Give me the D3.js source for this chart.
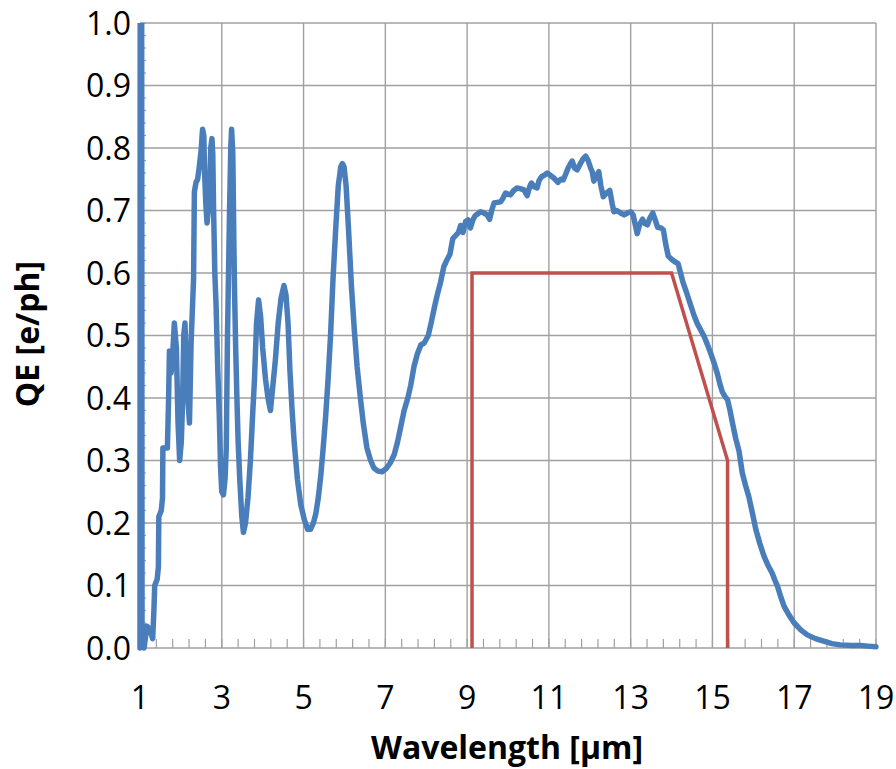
<!DOCTYPE html>
<html>
<head>
<meta charset="utf-8">
<script src="https://cdn.jsdelivr.net/npm/d3@7"></script>
<style>
  body { margin: 0; background: #fff; }
  text { font-family: "Open Sans", "Liberation Sans", sans-serif; fill: #000; }
</style>
</head>
<body>
<div id="chart"></div>
<script>
// measured QE curve (blue)
const wavelength = [1.00,1.005,1.04,1.05,1.10,1.17,1.24,1.31,1.34,1.36,1.42,1.45,1.46,1.52,1.55,1.56,1.67,1.70,1.72,1.76,1.80,1.84,1.89,1.93,1.97,2.01,2.04,2.07,2.10,2.14,2.17,2.21,2.25,2.31,2.33,2.37,2.41,2.45,2.50,2.53,2.56,2.58,2.61,2.64,2.67,2.70,2.73,2.76,2.78,2.80,2.83,2.86,2.90,2.94,2.97,3.00,3.04,3.08,3.11,3.14,3.16,3.19,3.22,3.24,3.27,3.29,3.31,3.34,3.37,3.40,3.44,3.49,3.53,3.58,3.64,3.70,3.76,3.80,3.85,3.90,3.95,4.00,4.07,4.13,4.19,4.25,4.31,4.38,4.45,4.52,4.57,4.62,4.67,4.72,4.77,4.85,4.93,5.02,5.10,5.17,5.24,5.30,5.36,5.42,5.48,5.54,5.60,5.66,5.72,5.79,5.85,5.91,5.95,5.99,6.04,6.10,6.17,6.24,6.31,6.39,6.46,6.55,6.64,6.72,6.82,6.92,7.02,7.12,7.22,7.30,7.38,7.46,7.55,7.62,7.70,7.78,7.87,7.95,8.05,8.12,8.20,8.27,8.35,8.43,8.50,8.58,8.65,8.72,8.79,8.84,8.90,8.96,9.02,9.08,9.14,9.20,9.27,9.33,9.41,9.49,9.55,9.60,9.66,9.74,9.82,9.88,9.94,10.00,10.06,10.14,10.22,10.30,10.39,10.47,10.53,10.57,10.64,10.71,10.76,10.82,10.90,10.96,11.04,11.12,11.18,11.22,11.29,11.35,11.41,11.47,11.53,11.57,11.63,11.69,11.77,11.84,11.90,11.96,12.02,12.06,12.10,12.16,12.22,12.27,12.33,12.41,12.49,12.55,12.59,12.65,12.71,12.78,12.84,12.92,13.00,13.06,13.12,13.16,13.22,13.29,13.35,13.41,13.47,13.54,13.60,13.66,13.74,13.80,13.86,13.92,14.00,14.08,14.16,14.22,14.28,14.35,14.42,14.48,14.55,14.63,14.72,14.80,14.88,14.96,15.04,15.12,15.18,15.24,15.30,15.37,15.43,15.49,15.57,15.65,15.73,15.81,15.89,15.98,16.06,16.16,16.26,16.36,16.46,16.53,16.59,16.67,16.75,16.87,17.00,17.16,17.32,17.52,17.72,17.92,18.13,18.40,18.62,18.80,19.00];
const qe = [0.00,1.10,1.10,0.02,0.00,0.035,0.030,0.015,0.06,0.10,0.11,0.13,0.21,0.22,0.24,0.32,0.32,0.40,0.475,0.44,0.47,0.52,0.48,0.36,0.30,0.33,0.39,0.50,0.52,0.44,0.40,0.36,0.49,0.59,0.73,0.745,0.75,0.77,0.80,0.83,0.82,0.76,0.71,0.68,0.70,0.73,0.80,0.815,0.79,0.70,0.60,0.55,0.45,0.37,0.29,0.25,0.245,0.27,0.32,0.50,0.58,0.70,0.80,0.83,0.79,0.68,0.58,0.48,0.40,0.33,0.27,0.21,0.185,0.20,0.24,0.30,0.38,0.43,0.52,0.557,0.53,0.48,0.43,0.40,0.38,0.42,0.46,0.52,0.56,0.58,0.565,0.52,0.44,0.38,0.33,0.27,0.23,0.205,0.19,0.19,0.20,0.215,0.24,0.275,0.32,0.37,0.43,0.50,0.59,0.675,0.74,0.77,0.775,0.77,0.74,0.67,0.58,0.51,0.45,0.40,0.36,0.32,0.30,0.288,0.283,0.282,0.287,0.296,0.31,0.33,0.355,0.38,0.40,0.42,0.45,0.47,0.485,0.488,0.50,0.52,0.545,0.565,0.585,0.61,0.62,0.63,0.655,0.66,0.665,0.676,0.665,0.682,0.685,0.672,0.685,0.692,0.695,0.698,0.696,0.693,0.686,0.70,0.712,0.713,0.714,0.72,0.728,0.726,0.725,0.732,0.736,0.735,0.733,0.724,0.738,0.744,0.738,0.736,0.748,0.754,0.757,0.76,0.756,0.752,0.748,0.745,0.75,0.749,0.758,0.768,0.775,0.779,0.768,0.765,0.775,0.783,0.787,0.78,0.768,0.762,0.747,0.755,0.762,0.74,0.722,0.728,0.732,0.71,0.698,0.70,0.698,0.695,0.693,0.696,0.698,0.693,0.675,0.663,0.678,0.686,0.679,0.677,0.688,0.696,0.685,0.673,0.672,0.669,0.645,0.627,0.622,0.618,0.615,0.60,0.585,0.572,0.558,0.546,0.532,0.519,0.508,0.498,0.485,0.471,0.456,0.439,0.423,0.41,0.403,0.397,0.38,0.36,0.335,0.315,0.28,0.26,0.242,0.215,0.19,0.167,0.147,0.132,0.12,0.108,0.099,0.082,0.067,0.053,0.04,0.029,0.021,0.015,0.011,0.007,0.005,0.004,0.004,0.003,0.002];

// spec outline (red)
const specWavelength = [9.12, 9.12, 14.0, 15.37, 15.37];
const specQe = [0.0, 0.6, 0.6, 0.3, 0.0];

const xTickLabels = [1, 3, 5, 7, 9, 11, 13, 15, 17, 19];
const yTickLabels = [0.0, 0.1, 0.2, 0.3, 0.4, 0.5, 0.6, 0.7, 0.8, 0.9, 1.0];

const width = 896;
const height = 769;
const margin = {top: 23, right: 20, bottom: 121, left: 140};
const innerW = width - margin.left - margin.right;
const innerH = height - margin.top - margin.bottom;

const svg = d3.select("#chart")
    .append("svg")
    .attr("width", width)
    .attr("height", height);

const g = svg.append("g")
    .attr("transform", `translate(${margin.left},${margin.top})`);

const x = d3.scaleLinear().domain([1, 19]).range([0, innerW]);
const y = d3.scaleLinear().domain([0, 1]).range([innerH, 0]);

const gridColor = "#a0a0a0";

// horizontal grid
g.selectAll(".hgrid")
    .data(yTickLabels.filter(d => d > 0))
    .enter().append("line")
    .attr("x1", 0).attr("x2", innerW)
    .attr("y1", d => y(d)).attr("y2", d => y(d))
    .attr("stroke", gridColor)
    .attr("stroke-width", 1.4);

// vertical grid
g.selectAll(".vgrid")
    .data(xTickLabels.filter(d => d > 1))
    .enter().append("line")
    .attr("y1", 0).attr("y2", innerH)
    .attr("x1", d => x(d)).attr("x2", d => x(d))
    .attr("stroke", gridColor)
    .attr("stroke-width", 1.4);

// minor ticks, pointing into the plot
const xMinor = d3.range(0, 46).map(i => 1 + i * 0.4);
const yMinor = d3.range(0, 51).map(i => i * 0.02);

g.selectAll(".xminor")
    .data(xMinor)
    .enter().append("line")
    .attr("x1", d => x(d)).attr("x2", d => x(d))
    .attr("y1", innerH).attr("y2", innerH - 9)
    .attr("stroke", gridColor)
    .attr("stroke-width", 1.2);

g.selectAll(".yminor")
    .data(yMinor)
    .enter().append("line")
    .attr("x1", 0).attr("x2", 6)
    .attr("y1", d => y(d)).attr("y2", d => y(d))
    .attr("stroke", gridColor)
    .attr("stroke-width", 1.2);

// axis lines
g.append("line")
    .attr("x1", 0).attr("x2", innerW)
    .attr("y1", innerH).attr("y2", innerH)
    .attr("stroke", gridColor).attr("stroke-width", 1.6);
g.append("line")
    .attr("x1", 0).attr("x2", 0)
    .attr("y1", 0).attr("y2", innerH)
    .attr("stroke", gridColor).attr("stroke-width", 1.6);

// tick labels
g.selectAll(".ylab")
    .data(yTickLabels)
    .enter().append("text")
    .attr("x", -9)
    .attr("y", d => y(d))
    .attr("dy", "0.36em")
    .attr("text-anchor", "end")
    .style("font-size", "32px")
    .text(d => d.toFixed(1));

g.selectAll(".xlab")
    .data(xTickLabels)
    .enter().append("text")
    .attr("x", d => x(d))
    .attr("y", innerH + 61)
    .attr("text-anchor", "middle")
    .style("font-size", "32px")
    .text(d => d);

// clip to plot area
svg.append("defs").append("clipPath")
    .attr("id", "plot-clip")
    .append("rect")
    .attr("x", -4).attr("y", 0)
    .attr("width", innerW + 8).attr("height", innerH + 4);

const line = d3.line()
    .x(d => x(d[0]))
    .y(d => y(d[1]));

const plot = g.append("g").attr("clip-path", "url(#plot-clip)");

plot.append("path")
    .datum(d3.zip(specWavelength, specQe))
    .attr("d", line)
    .attr("fill", "none")
    .attr("stroke", "#c0504d")
    .attr("stroke-width", 3.5)
    .attr("stroke-linejoin", "miter");

plot.append("path")
    .datum(d3.zip(wavelength, qe))
    .attr("d", line)
    .attr("fill", "none")
    .attr("stroke", "#4a7ebb")
    .attr("stroke-width", 5.5)
    .attr("stroke-linejoin", "round")
    .attr("stroke-linecap", "round");

// axis titles
svg.append("text")
    .attr("x", 507)
    .attr("y", 759)
    .attr("text-anchor", "middle")
    .style("font-size", "32px")
    .style("font-weight", "bold")
    .text("Wavelength [µm]");

svg.append("text")
    .attr("transform", "translate(39,334) rotate(-90)")
    .attr("text-anchor", "middle")
    .style("font-size", "32px")
    .style("font-weight", "bold")
    .text("QE [e/ph]");
</script>
</body>
</html>
